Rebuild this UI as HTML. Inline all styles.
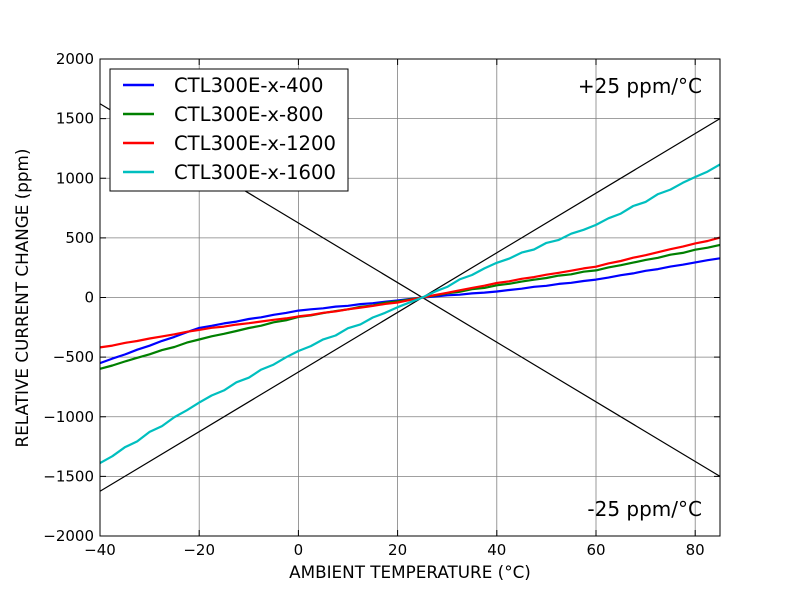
<!DOCTYPE html>
<html><head><meta charset="utf-8"><style>
body{margin:0;background:#fff;}
svg text{font-family:"DejaVu Sans","Liberation Sans",sans-serif;}
</style></head><body>
<svg id="s" width="800" height="597" xmlns="http://www.w3.org/2000/svg">
<rect width="800" height="597" fill="#fff"/>
<g id="grid" stroke="#808080" stroke-width="0.8"></g>
<g id="series" fill="none" stroke-width="2.2" stroke-linejoin="round"></g>
<rect x="100" y="59" width="620" height="477" fill="none" stroke="#000" stroke-width="1"/>
<g id="ticks" stroke="#000" stroke-width="1"></g>
<g id="labels" font-size="15" fill="#000"></g>
<text x="410" y="578" font-size="16.8" text-anchor="middle">AMBIENT TEMPERATURE (°C)</text>
<text transform="translate(28,298) rotate(-90)" font-size="16.8" text-anchor="middle">RELATIVE CURRENT CHANGE (ppm)</text>
<text x="702" y="93" font-size="20" text-anchor="end">+25 ppm/°C</text>
<text x="702" y="516" font-size="20" text-anchor="end">-25 ppm/°C</text>
<rect x="110" y="69" width="238" height="122" fill="#fff" stroke="#000" stroke-width="1"/>
<g stroke-width="2.5">
<line x1="123" x2="154" y1="85" y2="85" stroke="#0000ff"/>
<line x1="123" x2="154" y1="114" y2="114" stroke="#008000"/>
<line x1="123" x2="154" y1="143" y2="143" stroke="#ff0000"/>
<line x1="123" x2="154" y1="172" y2="172" stroke="#00bfbf"/>
</g>
<g font-size="19.6">
<text x="174" y="92">CTL300E-x-400</text>
<text x="174" y="121">CTL300E-x-800</text>
<text x="174" y="150">CTL300E-x-1200</text>
<text x="174" y="179">CTL300E-x-1600</text>
</g>
</svg>
<script>
var X=function(t){return 100+(t+40)*4.96;};
var Y=function(v){return 297.5-v*0.11925;};
var NS="http://www.w3.org/2000/svg";
function el(p,n,a,txt){var e=document.createElementNS(NS,n);for(var k in a)e.setAttribute(k,a[k]);if(txt!=null)e.textContent=txt;document.getElementById(p).appendChild(e);}
for(var t=-40;t<=80;t+=20){el('grid','line',{x1:X(t),x2:X(t),y1:59,y2:536});
 el('ticks','line',{x1:X(t),x2:X(t),y1:536,y2:530});el('ticks','line',{x1:X(t),x2:X(t),y1:59,y2:65});
 el('labels','text',{x:X(t),y:555,'text-anchor':'middle'},(t<0?'\u2212':'')+Math.abs(t));}
for(var v=-2000;v<=2000;v+=500){el('grid','line',{x1:100,x2:720,y1:Y(v),y2:Y(v)});
 el('ticks','line',{x1:100,x2:106,y1:Y(v),y2:Y(v)});el('ticks','line',{x1:720,x2:714,y1:Y(v),y2:Y(v)});
 el('labels','text',{x:94,y:Y(v)+5,'text-anchor':'end'},(v<0?'\u2212':'')+Math.abs(v));}
el('series','line',{x1:X(-40),y1:Y(-1625),x2:X(85),y2:Y(1500),stroke:'#000','stroke-width':1.2});
el('series','line',{x1:X(-40),y1:Y(1625),x2:X(85),y2:Y(-1500),stroke:'#000','stroke-width':1.2});
var T=[-40,-20,0,20,25,40,60,85];
var S=[[[-550,-255,-110,-25,0,50,150,330],'#0000ff',2],
[[-600,-350,-165,-30,0,100,230,440],'#008000',3],
[[-420,-270,-160,-40,0,120,260,500],'#ff0000',2],
[[-1390,-880,-450,-80,0,290,610,1110],'#00bfbf',8]];
function interp(a,t){for(var i=0;i<T.length-1;i++){if(t<=T[i+1]){var f=(t-T[i])/(T[i+1]-T[i]);return a[i]+(a[i+1]-a[i])*f;}}return a[a.length-1];}
S.forEach(function(s,i){var d='';for(var t=-40;t<=85;t+=2.5){var v=interp(s[0],t)+(Math.abs(t-25)<3?0:s[2]*Math.sin(t*1.1+i));d+=(d?'L':'M')+X(t).toFixed(1)+','+Y(v).toFixed(1);}el('series','path',{d:d,stroke:s[1]});});
</script>
</body></html>
